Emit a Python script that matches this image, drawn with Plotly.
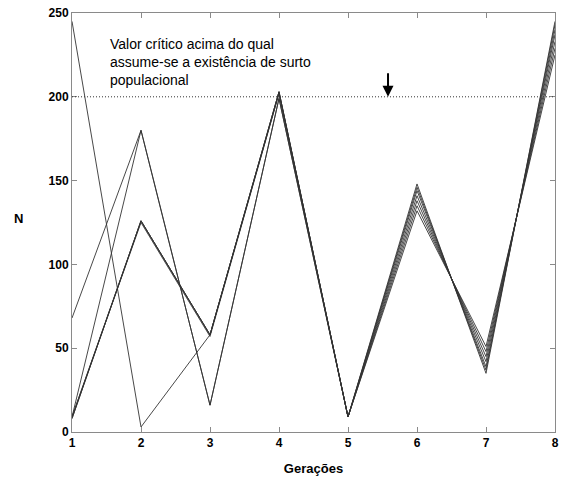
import plotly.graph_objects as go

# Generations on the x axis
geracoes = [1, 2, 3, 4, 5, 6, 7, 8]

# Population size N per generation, one list per simulated trajectory
serie_a = [245, 3, 58, 202, 9, 141, 42, 237]
serie_b = [68, 180, 16, 199, 9, 135, 48, 229]
serie_c = [9, 180, 16, 199, 9, 132, 51, 225]
serie_d = [8, 126, 58, 203, 9, 148, 35, 245]
serie_e = [8, 126, 58, 203, 9, 146, 37, 243]
serie_f = [9, 126, 58, 203, 9, 144, 39, 240]
serie_g = [9, 125, 57, 202, 9, 138, 45, 233]

series = [serie_a, serie_b, serie_c, serie_d, serie_e, serie_f, serie_g]

# Threshold above which an outbreak is assumed
limiar = 200
texto_limiar = "Valor crítico acima do qual<br>assume-se a existência de surto<br>populacional"

y_ticks = [0, 50, 100, 150, 200, 250]
x_ticks = geracoes

FONT = "Liberation Sans, Arial, sans-serif"

fig = go.Figure()

for s in series:
    fig.add_trace(go.Scatter(
        x=geracoes, y=s, mode="lines",
        line=dict(color="#333333", width=0.9),
        showlegend=False, hoverinfo="skip",
    ))

# Dotted critical-value line
fig.add_shape(
    type="line", xref="x", yref="y",
    x0=geracoes[0], x1=geracoes[-1], y0=limiar, y1=limiar,
    line=dict(color="#333333", width=1, dash="1px,2px"),
)

fig.add_annotation(
    x=1.52, y=237.5, xref="x", yref="y",
    text=texto_limiar, showarrow=False,
    xanchor="left", yanchor="top", align="left",
    font=dict(family=FONT, size=14, color="black"),
)

# Arrow pointing at the critical line
fig.add_annotation(
    x=5.58, y=limiar, xref="x", yref="y",
    ax=5.58, ay=215, axref="x", ayref="y",
    text="", showarrow=True,
    arrowhead=2, arrowsize=1.1, arrowwidth=2, arrowcolor="black",
)

axis_common = dict(
    showline=True, linecolor="#8a8a8a", linewidth=1,
    mirror="ticks", ticks="inside", ticklen=5, tickcolor="#8a8a8a",
    showgrid=False, zeroline=False, ticklabeloverflow="allow",
    tickfont=dict(family=FONT, size=12, color="black", weight="bold"),
)

fig.update_xaxes(
    range=[1, 8], tickvals=x_ticks, **axis_common,
    title=dict(text="Gerações", standoff=14,
               font=dict(family=FONT, size=13, color="black", weight="bold")),
)
fig.update_yaxes(
    range=[0, 250], tickvals=y_ticks, **axis_common,
)

# Y axis label placed to the left of the tick labels
fig.add_annotation(
    xref="paper", yref="paper",
    x=(11 - 72) / (559 - 72), y=(432 - 218) / (432 - 13),
    showarrow=False, text="N",
    font=dict(family=FONT, size=13, color="black", weight="bold"),
)

fig.update_layout(
    width=561, height=482,
    margin=dict(l=72, r=2, t=13, b=50),
    paper_bgcolor="white", plot_bgcolor="white",
)

fig.write_html("out.html")
